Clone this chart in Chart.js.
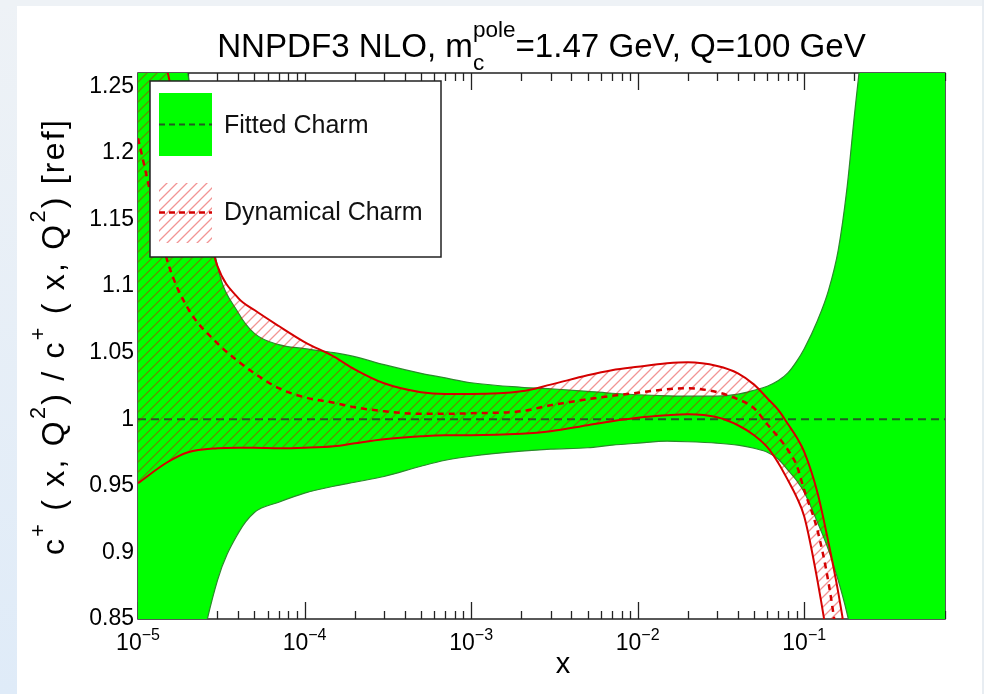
<!DOCTYPE html>
<html><head><meta charset="utf-8">
<script src="https://cdn.jsdelivr.net/npm/chart.js@4.4.1/dist/chart.umd.min.js"></script>
<style>html,body{margin:0;padding:0;background:#fff;}canvas{display:block;}</style>
</head><body>
<canvas id="c" width="984" height="694"></canvas>
<script>
const FONT = '"Liberation Sans", Arial, Helvetica, sans-serif';

// x grid (momentum fraction)
const xValues = [1e-5,1.5e-5,2e-5,3e-5,4e-5,5e-5,7e-5,1e-4,1.5e-4,2e-4,3e-4,5e-4,7e-4,1e-3,2e-3,3e-3,5e-3,7e-3,1e-2,1.5e-2,2e-2,3e-2,4e-2,5e-2,6e-2,7e-2,8e-2,9e-2,0.1,0.12,0.14,0.16,0.18,0.2,0.25,0.3,0.4,0.5,0.7];

// Fitted charm band
const fittedUpper = [1.45,1.33,1.258,1.115,1.080,1.0645,1.056,1.053,1.050,1.047,1.041,1.0345,1.031,1.0274,1.024,1.0229,1.021,1.0195,1.0184,1.0176,1.0173,1.0173,1.0188,1.0218,1.0248,1.029,1.035,1.0435,1.053,1.074,1.097,1.127,1.172,1.228,1.34,1.45,1.6,1.72,1.9];
const fittedLower = [0.55,0.68,0.78,0.879,0.9145,0.930,0.9377,0.9445,0.9497,0.9527,0.957,0.9647,0.9692,0.9722,0.976,0.9775,0.9786,0.9805,0.982,0.9835,0.9831,0.982,0.9805,0.9782,0.9752,0.970,0.9617,0.954,0.9452,0.9227,0.9017,0.879,0.855,0.827,0.72,0.6,0.45,0.35,0.2];
const fittedCentral = [1,1,1,1,1,1,1,1,1,1,1,1,1,1,1,1,1,1,1,1,1,1,1,1,1,1,1,1,1,1,1,1,1,1,1,1,1,1,1];

// Dynamical charm band
const dynUpper = [1.40,1.262,1.20,1.115,1.091,1.082,1.070,1.058,1.047,1.0375,1.027,1.0203,1.019,1.019,1.021,1.026,1.033,1.0368,1.0394,1.042,1.0428,1.040,1.0345,1.026,1.0158,1.0068,0.9962,0.9865,0.9755,0.945,0.907,0.87,0.83,0.78,0.65,0.5,0.3,0.1,-0.2];
const dynLower = [0.952,0.9677,0.9752,0.9782,0.9786,0.9786,0.9782,0.9786,0.9797,0.982,0.985,0.9872,0.988,0.988,0.9891,0.991,0.9955,0.9985,1.0011,1.003,1.0038,1.0015,0.9955,0.988,0.979,0.967,0.954,0.9415,0.927,0.879,0.827,0.76,0.69,0.62,0.45,0.3,0.05,-0.1,-0.4];
const dynCentral = [1.211,1.119,1.083,1.057,1.0435,1.0345,1.0233,1.0165,1.0124,1.009,1.006,1.0041,1.0041,1.0045,1.006,1.0105,1.015,1.0176,1.0199,1.0225,1.0233,1.0203,1.015,1.0083,0.9962,0.9865,0.9767,0.9655,0.9467,0.9167,0.877,0.827,0.77,0.71,0.56,0.4,0.15,-0.05,-0.3];

// ticks and texts
const yTickValues = [0.85,0.9,0.95,1,1.05,1.1,1.15,1.2,1.25];
const yTickLabels = ['0.85','0.9','0.95','1','1.05','1.1','1.15','1.2','1.25'];
const xTickValues = [1e-5,1e-4,1e-3,1e-2,1e-1];
const xTickBase = '10';
const xTickExponents = ['\u22125','\u22124','\u22123','\u22122','\u22121'];
const titleParts = [{t:'NNPDF3 NLO, m'},{sup:'pole',sub:'c'},{t:'=1.47 GeV, Q=100 GeV'}];
const yTitleParts = [{t:'c'},{sup:'+'},{t:' ( x, Q'},{sup:'2'},{t:') / c'},{sup:'+'},{t:' ( x, Q'},{sup:'2'},{t:') [ref]'}];
const xTitle = 'x';
const legendLabels = ['Fitted Charm','Dynamical Charm'];

const GREEN = '#00ff00', GREEN_EDGE = '#2a8a2a', GREEN_DASH = '#235a23', RED = '#d40000';

function pts(arr){ return xValues.map((x,i)=>({x:x, y:arr[i]})); }

// hatch pattern
const pc = document.createElement('canvas'); pc.width = 10; pc.height = 10;
const pg = pc.getContext('2d');
pg.strokeStyle = 'rgba(225,0,0,0.42)'; pg.lineWidth = 1.3;
pg.beginPath();
pg.moveTo(-2,12); pg.lineTo(12,-2);
pg.moveTo(-2,2); pg.lineTo(2,-2);
pg.moveTo(8,12); pg.lineTo(12,8);
pg.stroke();
const canvas = document.getElementById('c');
const ctx0 = canvas.getContext('2d');
const hatch = ctx0.createPattern(pc,'repeat');

// rich text helpers
function fnt(size, w){ return (w||'normal') + ' ' + size + 'px ' + FONT; }
function partWidth(ctx, p, size, track){
  if (p.t !== undefined){ ctx.font = fnt(size); return ctx.measureText(p.t).width + track*p.t.length; }
  ctx.font = fnt(size*0.68);
  const a = p.sup ? ctx.measureText(p.sup).width + track*p.sup.length : 0;
  const b = p.sub ? ctx.measureText(p.sub).width + track*p.sub.length : 0;
  return Math.max(a,b);
}
function partsWidth(ctx, parts, size, track){ let w=0; for (const p of parts) w += partWidth(ctx,p,size,track||0); return w; }
function drawStr(ctx, s, x, y, track){
  if (!track){ ctx.fillText(s,x,y); return ctx.measureText(s).width; }
  let w=0; for (const ch of s){ ctx.fillText(ch,x+w,y); w += ctx.measureText(ch).width + track; } return w;
}
function drawParts(ctx, parts, x, y, size, track){
  track = track||0;
  for (const p of parts){
    if (p.t !== undefined){ ctx.font = fnt(size); x += drawStr(ctx,p.t,x,y,track); }
    else {
      ctx.font = fnt(size*0.68);
      let a=0,b=0;
      if (p.sup) a = drawStr(ctx,p.sup,x,y-size*0.6,track);
      if (p.sub) b = drawStr(ctx,p.sub,x,y+size*0.4,track);
      x += Math.max(a,b);
    }
  }
}

const bgPlugin = {
  id:'bg',
  beforeDraw(chart){
    const c = chart.ctx, W = chart.width, H = chart.height;
    c.save();
    c.fillStyle = '#ffffff'; c.fillRect(0,0,W,H);
    const g = c.createLinearGradient(0,0,0,H); g.addColorStop(0,'#eef2f6'); g.addColorStop(1,'#dfebf8');
    c.fillStyle = g; c.fillRect(0,0,17,H);
    c.fillStyle = '#eef2f6'; c.fillRect(0,0,W,6);
    c.fillStyle = '#e8edf2'; c.fillRect(982,0,2,H);
    c.restore();
  }
};

const boxPlugin = {
  id:'box',
  beforeDatasetsDraw(chart){
    const c = chart.ctx, a = chart.chartArea, xs = chart.scales.x;
    c.save();
    c.strokeStyle = '#222'; c.lineWidth = 1.5;
    c.strokeRect(a.left, a.top, a.right-a.left, a.bottom-a.top);
    c.lineWidth = 1.3;
    c.beginPath();
    for (const d of xTickValues){
      for (let k=1;k<=9;k++){
        const v = d*k; if (v > xs.max*1.0001) break;
        const px = Math.round(xs.getPixelForValue(v))+0.5;
        const L = k===1 ? 17 : 8;
        c.moveTo(px, a.bottom); c.lineTo(px, a.bottom-L);
        c.moveTo(px, a.top); c.lineTo(px, a.top+L);
      }
    }
    c.stroke();
    c.restore();
  }
};

const legendPlugin = {
  id:'customLegend',
  afterDatasetsDraw(chart){
    const c = chart.ctx;
    c.save();
    c.fillStyle = '#fff'; c.fillRect(150,81,291,176);
    c.strokeStyle = '#222'; c.lineWidth = 1.5; c.strokeRect(150,81,291,176);
    // fitted swatch
    c.fillStyle = GREEN; c.fillRect(159,93,53,63);
    c.strokeStyle = GREEN_DASH; c.lineWidth = 2; c.setLineDash([6,4]);
    c.beginPath(); c.moveTo(159,124.5); c.lineTo(212,124.5); c.stroke();
    // dynamical swatch
    c.setLineDash([]);
    c.fillStyle = hatch; c.fillRect(159,183,53,60);
    c.strokeStyle = RED; c.lineWidth = 2.5; c.setLineDash([6,4]);
    c.beginPath(); c.moveTo(159,212.5); c.lineTo(212,212.5); c.stroke();
    c.setLineDash([]);
    c.fillStyle = '#111'; c.font = fnt(25); c.textBaseline = 'alphabetic'; c.textAlign = 'left';
    c.fillText(legendLabels[0], 224, 133);
    c.fillText(legendLabels[1], 224, 220);
    c.restore();
  }
};

const textPlugin = {
  id:'texts',
  afterDraw(chart){
    const c = chart.ctx, xs = chart.scales.x, a = chart.chartArea;
    c.save();
    c.fillStyle = '#000'; c.textAlign = 'left'; c.textBaseline = 'alphabetic';
    // title
    const w32 = partsWidth(c, titleParts, 32);
    const ts = 32*649/w32;
    const tw = partsWidth(c, titleParts, ts);
    drawParts(c, titleParts, (a.left+a.right)/2 - tw/2, 57, ts);
    // x tick labels
    xTickValues.forEach((v,i)=>{
      c.font = fnt(23); const w1 = c.measureText(xTickBase).width;
      c.font = fnt(16); const w2 = c.measureText(xTickExponents[i]).width;
      const px = xs.getPixelForValue(v);
      const left = px - (w1+w2)/2;
      c.font = fnt(23); c.fillText(xTickBase, left, 650);
      c.font = fnt(16); c.fillText(xTickExponents[i], left+w1, 640);
    });
    // x title
    c.font = fnt(29); c.textAlign = 'center';
    c.fillText(xTitle, 563, 673);
    c.textAlign = 'left';
    // y title
    const ys = 32;
    const nat = partsWidth(c, yTitleParts, ys, 0);
    let nch = 0; yTitleParts.forEach(p=>{ nch += (p.t||p.sup||'').length; });
    const track = Math.max(0, (437 - nat)/nch);
    c.translate(64, 555); c.rotate(-Math.PI/2);
    drawParts(c, yTitleParts, 0, 0, ys, track);
    c.restore();
  }
};

const lineBase = {pointRadius:0, pointHoverRadius:0, cubicInterpolationMode:'monotone', fill:false};

new Chart(ctx0, {
  type:'line',
  data:{ datasets:[
    Object.assign({}, lineBase, {label:'Fitted Charm (upper)', data:pts(fittedUpper), borderColor:GREEN_EDGE, borderWidth:1.2, backgroundColor:GREEN, fill:'+1', order:10}),
    Object.assign({}, lineBase, {label:'Fitted Charm (lower)', data:pts(fittedLower), borderColor:GREEN_EDGE, borderWidth:1.2, order:9}),
    Object.assign({}, lineBase, {label:'Dynamical Charm (upper)', data:pts(dynUpper), borderColor:RED, borderWidth:2, backgroundColor:hatch, fill:'+1', order:7}),
    Object.assign({}, lineBase, {label:'Dynamical Charm (lower)', data:pts(dynLower), borderColor:RED, borderWidth:2, order:6}),
    Object.assign({}, lineBase, {label:'Fitted Charm', data:pts(fittedCentral), borderColor:GREEN_DASH, borderWidth:2, borderDash:[8,5], order:8}),
    Object.assign({}, lineBase, {label:'Dynamical Charm', data:pts(dynCentral), borderColor:RED, borderWidth:2.5, borderDash:[6,5], order:5})
  ]},
  options:{
    responsive:false, animation:false, devicePixelRatio:1, events:[],
    layout:{padding:{left:0, right:39, top:73, bottom:0}},
    plugins:{legend:{display:false}, tooltip:{enabled:false}, title:{display:false}},
    scales:{
      x:{type:'logarithmic', min:1e-5, max:0.7, grid:{display:false, drawTicks:false}, border:{display:false}, ticks:{display:false},
         afterFit(s){ s.height = 75; }},
      y:{type:'linear', min:0.85, max:1.26, grid:{display:false, drawTicks:false}, border:{display:false},
         ticks:{font:{family:FONT, size:23}, color:'#000', padding:4,
                callback(v){ const i = yTickValues.findIndex(t=>Math.abs(t-v)<1e-9); return i>=0 ? yTickLabels[i] : ''; }},
         afterBuildTicks(s){ s.ticks = yTickValues.map(v=>({value:v})); },
         afterFit(s){ s.width = 138; }}
    }
  },
  plugins:[bgPlugin, boxPlugin, legendPlugin, textPlugin]
});
</script>
</body></html>
